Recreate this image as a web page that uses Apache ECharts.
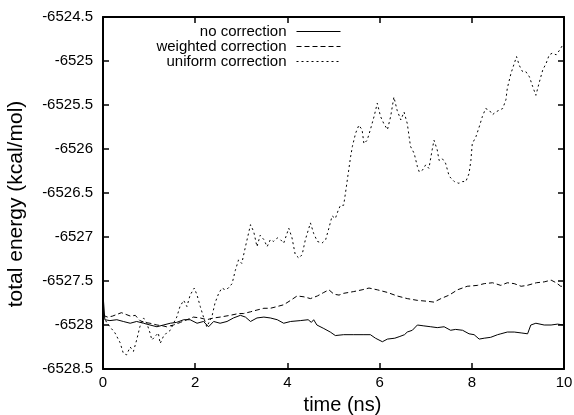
<!DOCTYPE html>
<html>
<head>
<meta charset="utf-8">
<script src="https://cdn.jsdelivr.net/npm/echarts@6/dist/echarts.min.js"></script>
<style>html,body{margin:0;padding:0;background:#fff}#c{width:574px;height:415px}</style>
</head>
<body>
<div id="c"></div>
<script>
var xTicks = [0, 2, 4, 6, 8, 10];
var yTicks = [-6528.5, -6528, -6527.5, -6527, -6526.5, -6526, -6525.5, -6525, -6524.5];
var seriesNames = ['no correction', 'weighted correction', 'uniform correction'];

var noCorrT = [0,0.04,0.15,0.30,0.44,0.59,0.73,0.88,1.02,1.17,1.31,1.46,1.60,1.75,1.89,2.04,2.18,2.29,2.40,2.54,2.69,2.83,2.98,3.09,3.20,3.34,3.49,3.63,3.78,3.92,4.07,4.28,4.45,4.52,4.57,4.64,4.79,4.93,5.04,5.22,5.44,5.66,5.80,5.91,6.06,6.17,6.33,6.44,6.54,6.60,6.71,6.82,6.96,7.11,7.25,7.40,7.54,7.65,7.80,7.94,8.05,8.16,8.27,8.41,8.56,8.63,8.77,8.92,9.07,9.21,9.28,9.39,9.57,9.72,9.86,10.00];
var noCorrV = [-6527.65,-6527.94,-6527.95,-6527.94,-6527.96,-6527.98,-6527.96,-6527.98,-6528.00,-6528.02,-6528.00,-6527.98,-6527.97,-6527.94,-6527.94,-6527.98,-6527.96,-6528.02,-6527.96,-6527.98,-6527.96,-6527.92,-6527.89,-6527.91,-6527.96,-6527.92,-6527.91,-6527.92,-6527.94,-6527.98,-6527.96,-6527.95,-6527.94,-6527.97,-6527.94,-6528.00,-6528.04,-6528.08,-6528.12,-6528.11,-6528.11,-6528.11,-6528.11,-6528.15,-6528.19,-6528.16,-6528.15,-6528.13,-6528.11,-6528.08,-6528.06,-6528.00,-6528.01,-6528.02,-6528.03,-6528.02,-6528.06,-6528.05,-6528.06,-6528.10,-6528.11,-6528.16,-6528.15,-6528.14,-6528.11,-6528.10,-6528.08,-6528.08,-6528.09,-6528.10,-6528.00,-6527.98,-6528.00,-6528.00,-6527.99,-6528.00];

var weightedT = [0,0.1,0.2,0.3,0.4,0.5,0.6,0.7,0.8,0.9,1.02,1.17,1.3,1.38,1.53,1.68,1.82,1.96,2.11,2.25,2.40,2.54,2.76,2.94,3.05,3.20,3.34,3.49,3.63,3.78,3.92,4.07,4.21,4.36,4.50,4.65,4.79,4.90,5.01,5.12,5.22,5.33,5.44,5.62,5.77,5.95,6.17,6.38,6.60,6.82,7.03,7.18,7.33,7.51,7.69,7.90,8.12,8.27,8.45,8.63,8.77,8.92,9.07,9.20,9.40,9.57,9.72,9.83,9.93,10.00];
var weightedV = [-6527.89,-6527.91,-6527.90,-6527.88,-6527.86,-6527.88,-6527.90,-6527.89,-6527.95,-6527.97,-6527.98,-6528.00,-6528.01,-6528.02,-6528.00,-6527.97,-6527.94,-6527.91,-6527.92,-6527.94,-6527.92,-6527.91,-6527.89,-6527.87,-6527.87,-6527.85,-6527.83,-6527.81,-6527.81,-6527.79,-6527.77,-6527.72,-6527.67,-6527.68,-6527.70,-6527.67,-6527.63,-6527.60,-6527.65,-6527.66,-6527.64,-6527.63,-6527.62,-6527.60,-6527.58,-6527.60,-6527.63,-6527.67,-6527.70,-6527.72,-6527.73,-6527.74,-6527.70,-6527.66,-6527.60,-6527.56,-6527.55,-6527.53,-6527.52,-6527.55,-6527.52,-6527.53,-6527.56,-6527.55,-6527.52,-6527.51,-6527.49,-6527.52,-6527.56,-6527.56];

var uniformT = [0,0.08,0.15,0.26,0.37,0.44,0.51,0.59,0.66,0.73,0.80,0.88,0.95,1.02,1.06,1.13,1.20,1.24,1.31,1.38,1.46,1.53,1.60,1.67,1.75,1.82,1.89,1.98,2.04,2.11,2.18,2.25,2.29,2.36,2.43,2.51,2.58,2.65,2.72,2.80,2.87,2.94,3.01,3.09,3.20,3.27,3.34,3.41,3.49,3.56,3.63,3.70,3.78,3.85,3.92,4.03,4.10,4.17,4.25,4.32,4.39,4.50,4.57,4.65,4.75,4.83,4.90,4.97,5.04,5.10,5.15,5.22,5.26,5.30,5.33,5.37,5.41,5.48,5.55,5.62,5.66,5.73,5.80,5.88,5.95,6.02,6.09,6.17,6.24,6.31,6.38,6.46,6.53,6.60,6.67,6.75,6.82,6.86,6.93,7.00,7.07,7.14,7.18,7.25,7.29,7.36,7.43,7.51,7.62,7.72,7.80,7.87,7.94,7.98,8.01,8.09,8.16,8.23,8.30,8.38,8.45,8.52,8.59,8.67,8.74,8.77,8.85,8.92,8.97,9.03,9.10,9.17,9.25,9.32,9.39,9.46,9.54,9.61,9.68,9.75,9.83,9.90,9.97,10.00];
var uniformV = [-6527.90,-6527.97,-6528.02,-6528.09,-6528.20,-6528.32,-6528.34,-6528.25,-6528.30,-6528.17,-6528.02,-6527.92,-6527.98,-6528.09,-6528.17,-6528.13,-6528.09,-6528.21,-6528.13,-6528.09,-6528.06,-6527.98,-6527.91,-6527.79,-6527.72,-6527.79,-6527.66,-6527.58,-6527.66,-6527.79,-6527.91,-6528.02,-6528.04,-6527.91,-6527.75,-6527.64,-6527.58,-6527.60,-6527.58,-6527.53,-6527.38,-6527.26,-6527.30,-6527.11,-6526.86,-6526.94,-6527.11,-6526.98,-6527.03,-6527.11,-6527.03,-6527.05,-6527.01,-6527.03,-6527.07,-6526.90,-6527.01,-6527.20,-6527.24,-6527.20,-6527.03,-6526.84,-6526.96,-6527.05,-6527.07,-6527.03,-6526.90,-6526.76,-6526.79,-6526.70,-6526.64,-6526.64,-6526.50,-6526.35,-6526.24,-6526.09,-6525.97,-6525.82,-6525.73,-6525.78,-6525.94,-6525.90,-6525.78,-6525.63,-6525.48,-6525.63,-6525.71,-6525.78,-6525.63,-6525.41,-6525.56,-6525.67,-6525.58,-6525.71,-6525.97,-6526.05,-6526.20,-6526.26,-6526.24,-6526.18,-6526.22,-6526.01,-6525.90,-6526.01,-6526.13,-6526.11,-6526.16,-6526.31,-6526.37,-6526.39,-6526.37,-6526.37,-6526.28,-6526.13,-6525.94,-6525.86,-6525.75,-6525.63,-6525.54,-6525.56,-6525.61,-6525.58,-6525.56,-6525.54,-6525.44,-6525.31,-6525.14,-6525.03,-6524.95,-6525.05,-6525.12,-6525.12,-6525.18,-6525.29,-6525.39,-6525.25,-6525.10,-6525.03,-6524.93,-6524.91,-6524.93,-6524.88,-6524.82,-6524.80];

function pairs(t, v) { return t.map(function (x, i) { return [x, v[i]]; }); }

var FONT = '"Liberation Sans", Arial, Helvetica, sans-serif';
var axisCommon = {
  axisLine: { show: true, onZero: false, lineStyle: { color: '#000', width: 2 } },
  axisTick: { show: true, inside: true, length: 6, lineStyle: { color: '#000', width: 1.5 } },
  splitLine: { show: false }
};

var chart = echarts.init(document.getElementById('c'), null, { renderer: 'canvas' });
var legendTops = [24, 39, 54];
var dashes = ['solid', [5, 3], [2, 3]];
var option = {
  animation: false,
  backgroundColor: '#fff',
  textStyle: { fontFamily: FONT },
  grid: { left: 103, right: 10, top: 17, bottom: 46, containLabel: false, outerBoundsMode: 'none' },
  legend: seriesNames.map(function (n, i) {
    return {
      data: [n], right: 233, top: legendTops[i], align: 'right',
      itemWidth: 44, itemHeight: 14, padding: 0, selectedMode: false,
      itemStyle: { opacity: 0 },
      lineStyle: { width: 1, color: '#000', type: dashes[i] },
      textStyle: { fontFamily: FONT, fontSize: 15, color: '#000', padding: [0, 5, 0, 0] }
    };
  }),
  xAxis: [
    Object.assign({}, axisCommon, {
      type: 'value', min: xTicks[0], max: xTicks[xTicks.length - 1], interval: 2,
      name: 'time (ns)', nameLocation: 'middle', nameGap: 26,
      nameTextStyle: { fontFamily: FONT, fontSize: 20, color: '#000', padding: [0, 0, 0, 18] },
      axisLabel: { color: '#000', fontSize: 15, fontFamily: FONT, margin: 6, formatter: function (v) { return String(v); } }
    }),
    Object.assign({}, axisCommon, {
      type: 'value', position: 'top', min: xTicks[0], max: xTicks[xTicks.length - 1], interval: 2,
      axisLabel: { show: false }
    })
  ],
  yAxis: [
    Object.assign({}, axisCommon, {
      type: 'value', min: yTicks[0], max: yTicks[yTicks.length - 1], interval: 0.5,
      name: 'total energy (kcal/mol)', nameLocation: 'middle', nameGap: 76, nameRotate: 90,
      nameTextStyle: { fontFamily: FONT, fontSize: 21, color: '#000', padding: [0, 22, 0, 0] },
      axisLabel: { color: '#000', fontSize: 15, fontFamily: FONT, margin: 10, formatter: function (v) { return String(v); } }
    }),
    Object.assign({}, axisCommon, {
      type: 'value', position: 'right', min: yTicks[0], max: yTicks[yTicks.length - 1], interval: 0.5,
      axisLabel: { show: false }
    })
  ],
  series: [
    { name: seriesNames[0], type: 'line', data: pairs(noCorrT, noCorrV) },
    { name: seriesNames[1], type: 'line', data: pairs(weightedT, weightedV) },
    { name: seriesNames[2], type: 'line', data: pairs(uniformT, uniformV) }
  ].map(function (s, i) {
    s.symbol = 'none';
    s.showSymbol = false;
    s.silent = true;
    s.itemStyle = { color: '#000' };
    s.lineStyle = { color: '#000', width: 1, type: dashes[i] };
    return s;
  })
};
chart.setOption(option);
</script>
</body>
</html>
